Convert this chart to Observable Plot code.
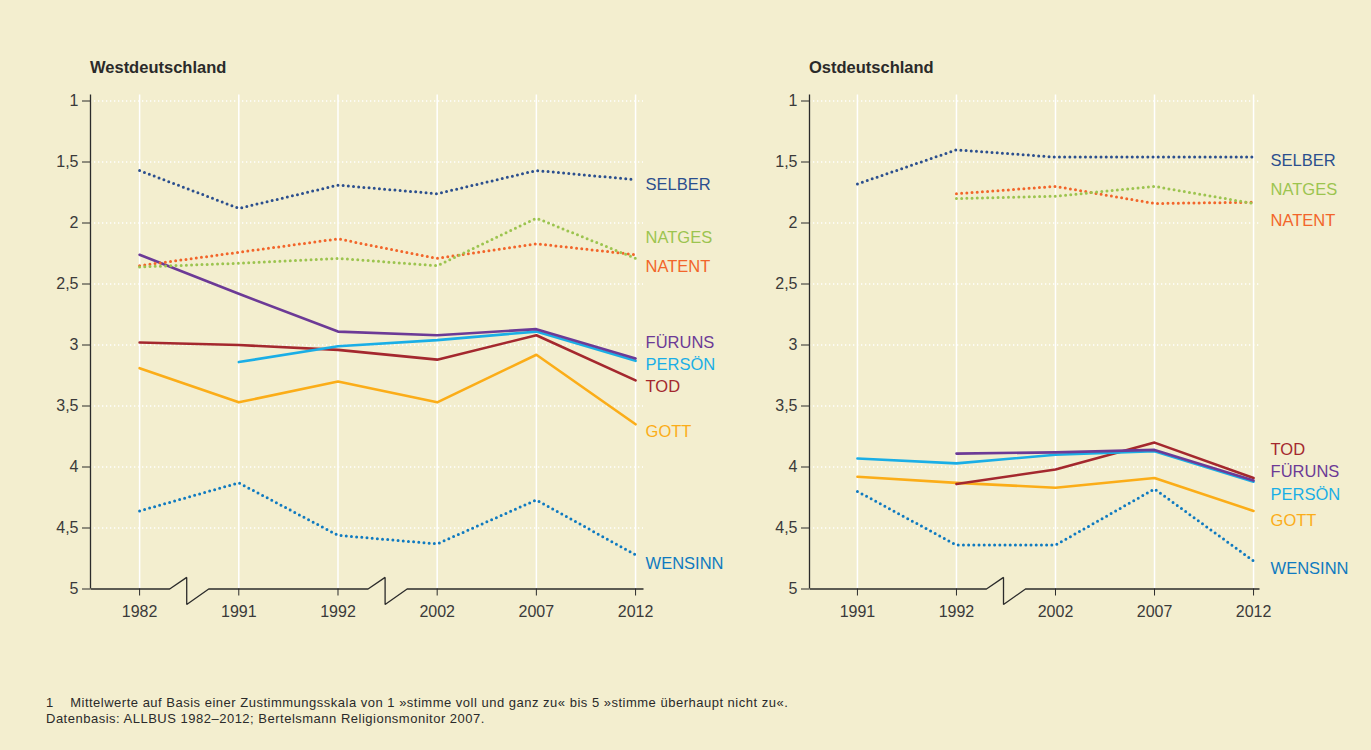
<!DOCTYPE html>
<html><head><meta charset="utf-8">
<script src="https://cdn.jsdelivr.net/npm/d3@7"></script>
<script src="https://cdn.jsdelivr.net/npm/@observablehq/plot@0.6"></script>
<style>
html,body{margin:0;padding:0;background:#f3eecf;}
body{width:1371px;height:750px;position:relative;overflow:hidden;font-family:"Liberation Sans",Arial,sans-serif;color:#2a2a2a;}
.title{position:absolute;font-size:16.5px;font-weight:bold;color:#2a2a2a;}
.panel{position:absolute;top:0;}
.foot{position:absolute;left:46px;top:695px;font-size:13px;letter-spacing:0.5px;line-height:16px;color:#2a2a2a;}
</style></head>
<body>
<div class="title" style="left:90px;top:58px">Westdeutschland</div>
<div class="title" style="left:809px;top:58px">Ostdeutschland</div>
<div id="west" class="panel" style="left:0px"></div>
<div id="east" class="panel" style="left:720px"></div>
<div class="foot">1&nbsp;&nbsp;&nbsp;&nbsp;Mittelwerte auf Basis einer Zustimmungsskala von 1 »stimme voll und ganz zu« bis 5 »stimme überhaupt nicht zu«.<br>Datenbasis: ALLBUS 1982–2012; Bertelsmann Religionsmonitor 2007.</div>
<script>
// ---- data ----
const seriesNames = ["SELBER","NATGES","NATENT","FÜRUNS","PERSÖN","TOD","GOTT","WENSINN"];
const seriesColors = ["#2b4f8e","#9cc44f","#f2652a","#6c3a96","#1aaee6","#a4282e","#fbad18","#0f7ac0"];
const dottedSeries = ["SELBER","NATGES","NATENT","WENSINN"];
const yTicks = [1,1.5,2,2.5,3,3.5,4,4.5,5];

const westYears = ["1982","1991","1992","2002","2007","2012"];
const westSelber  = [1.57, 1.88, 1.69, 1.76, 1.57, 1.645];
const westNatges  = [2.36, 2.33, 2.29, 2.35, 1.96, 2.29];
const westNatent  = [2.35, 2.24, 2.13, 2.29, 2.17, 2.26];
const westFuruns  = [2.26, 2.58, 2.89, 2.92, 2.87, 3.11];
const westPerson  = [null, 3.14, 3.01, 2.96, 2.89, 3.13];
const westTod     = [2.98, 3.00, 3.04, 3.12, 2.92, 3.29];
const westGott    = [3.19, 3.47, 3.30, 3.47, 3.08, 3.65];
const westWensinn = [4.36, 4.13, 4.56, 4.63, 4.27, 4.72];
const westLabelAt = [1.69, 2.12, 2.36, 2.98, 3.16, 3.34, 3.71, 4.79];
const westBreaks = [0.5, 2.5];

const eastYears = ["1991","1992","2002","2007","2012"];
const eastSelber  = [1.68, 1.40, 1.46, 1.46, 1.46];
const eastNatges  = [null, 1.80, 1.78, 1.70, 1.84];
const eastNatent  = [null, 1.76, 1.70, 1.84, 1.83];
const eastFuruns  = [null, 3.89, 3.88, 3.86, 4.11];
const eastPerson  = [3.93, 3.97, 3.90, 3.87, 4.12];
const eastTod     = [null, 4.14, 4.02, 3.80, 4.09];
const eastGott    = [4.08, 4.13, 4.17, 4.09, 4.36];
const eastWensinn = [4.20, 4.64, 4.64, 4.18, 4.77];
const eastLabelAt = [1.49, 1.73, 1.98, 4.04, 4.23, 3.86, 4.44, 4.83];
const eastBreaks = [1.5];

function panel(years, valuesList, labelAt, breaks, opts) {
  const n = years.length;
  const idx = d3.range(n);
  const rows = [];
  seriesNames.forEach((s, k) => {
    valuesList[k].forEach((v, i) => { if (v != null) rows.push({s, i, v}); });
  });
  const labels = seriesNames.map((s, k) => ({s, y: labelAt[k], color: seriesColors[k]}));
  const ymax = 5;
  const axisPts = [{x: opts.x0, y: ymax}];
  breaks.forEach(b => {
    axisPts.push({x: b - 0.197, y: ymax});
    axisPts.push({x: b - 0.025, y: 4.905});
    axisPts.push({x: b - 0.025, y: 5.127});
    axisPts.push({x: b + 0.197, y: ymax});
  });
  axisPts.push({x: opts.x1, y: ymax});
  const order = [...seriesNames].reverse();
  const marks = [
    Plot.ruleY(yTicks.slice(0, -1), {stroke: "white", strokeWidth: 1.3, strokeDasharray: "1.3,2.7"}),
    Plot.ruleX(idx, {y1: opts.y0, y2: ymax, stroke: "white", strokeWidth: 1.5}),
  ];
  order.forEach(s => {
    const k = seriesNames.indexOf(s);
    const dotted = dottedSeries.includes(s);
    marks.push(Plot.line(rows.filter(r => r.s === s), {
      x: "i", y: "v", stroke: seriesColors[k],
      strokeWidth: dotted ? 3 : 2.6,
      strokeDasharray: dotted ? "0,5.2" : null,
      strokeLinecap: "round", strokeLinejoin: "round"
    }));
  });
  marks.push(
    Plot.ruleX([opts.x0], {y1: opts.y0, y2: ymax, stroke: "#2b2b2b", strokeWidth: 1.3}),
    Plot.line(axisPts, {x: "x", y: "y", stroke: "#2b2b2b", strokeWidth: 1.3, strokeLinejoin: "miter", strokeLinecap: "butt"}),
    Plot.axisY({ticks: yTicks, tickSize: 8, tickPadding: 4, tickFormat: d => String(d).replace(".", ","), fontSize: 16, fill: "#3a3a3a", stroke: "#2b2b2b"}),
    Plot.axisX({ticks: idx, tickSize: 7, tickPadding: 10, tickFormat: i => years[i], fontSize: 16, fill: "#3a3a3a", stroke: "#2b2b2b"}),
    Plot.text(labels, {x: n - 1, y: "y", text: "s", fill: "color", textAnchor: "start", lineAnchor: "middle", dx: opts.dx, fontSize: 16.5})
  );
  return Plot.plot({
    width: opts.width, height: 650,
    marginLeft: opts.ml, marginRight: opts.mr, marginTop: 94.4, marginBottom: 61.5,
    x: {domain: [opts.x0, opts.x1]},
    y: {domain: [opts.y0, ymax], reverse: true},
    style: {background: "transparent", fontFamily: "'Liberation Sans', Arial, sans-serif", fontSize: "16px", color: "#3a3a3a", overflow: "visible"},
    marks
  });
}

document.getElementById("west").append(panel(westYears,
  [westSelber, westNatges, westNatent, westFuruns, westPerson, westTod, westGott, westWensinn],
  westLabelAt, westBreaks,
  {width: 740, ml: 90, mr: 97, x0: -0.495, x1: 5.08, y0: 0.95, dx: 10}));

document.getElementById("east").append(panel(eastYears,
  [eastSelber, eastNatges, eastNatent, eastFuruns, eastPerson, eastTod, eastGott, eastWensinn],
  eastLabelAt, eastBreaks,
  {width: 651, ml: 89, mr: 112, x0: -0.484, x1: 4.06, y0: 0.95, dx: 17}));
</script>
</body></html>
